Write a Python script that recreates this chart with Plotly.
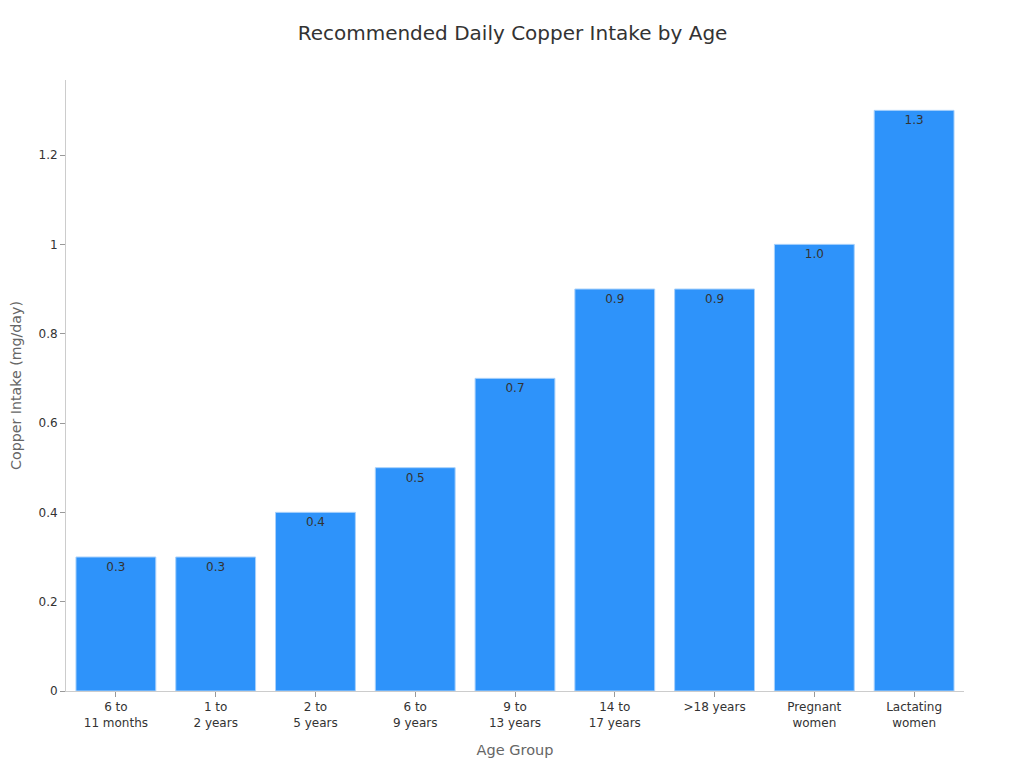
import plotly.graph_objects as go

categories = ["6 to<br>11 months", "1 to<br>2 years", "2 to<br>5 years", "6 to<br>9 years",
              "9 to<br>13 years", "14 to<br>17 years", ">18 years", "Pregnant<br>women", "Lactating<br>women"]
values = [0.3, 0.3, 0.4, 0.5, 0.7, 0.9, 0.9, 1.0, 1.3]

fig = go.Figure(go.Bar(
    x=categories, y=values,
    marker=dict(color="#2E93FA", line=dict(color="#A9D1FB", width=1)),
    text=[f"{v:.1f}" for v in values],
    textposition="inside", insidetextanchor="end",
    textfont=dict(color="#333333", size=12, family="DejaVu Sans"),
    cliponaxis=False,
))

fig.update_layout(
    width=1024, height=768,
    paper_bgcolor="white", plot_bgcolor="white",
    font=dict(family="DejaVu Sans", color="#333333", size=12),
    title=dict(text="Recommended Daily Copper Intake by Age", x=0.4927, xanchor="center",
               y=0.968, yanchor="middle", font=dict(size=20, color="#333333")),
    margin=dict(l=58, r=68, t=72, b=85),
    bargap=0.2,
    showlegend=False,
    xaxis=dict(title=dict(text="Age Group", font=dict(size=14.5, color="#666666"), standoff=15),
               showline=True, linecolor="#cccccc", linewidth=1,
               ticks="outside", tickcolor="#999999", ticklen=5, automargin=False,
               tickfont=dict(size=12, color="#333333"), showgrid=False),
    yaxis=dict(title=dict(text="Copper Intake (mg/day)", font=dict(size=14.2, color="#666666"), standoff=20),
               range=[0, 1.368], showline=True, linecolor="#cccccc", linewidth=1,
               ticks="outside", tickcolor="#999999", ticklen=5, dtick=0.2, automargin=False,
               tickfont=dict(size=12, color="#333333"), showgrid=False, zeroline=False),
)

fig.write_html("out.html")
